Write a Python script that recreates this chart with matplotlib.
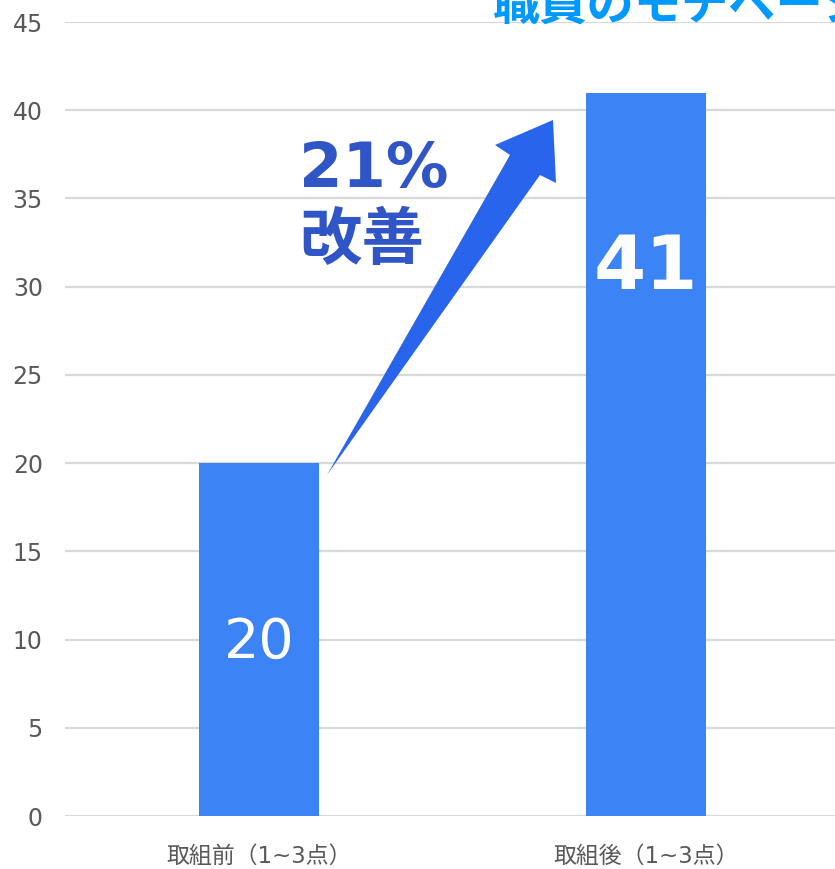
import matplotlib.pyplot as plt
from matplotlib.patches import Polygon

plt.rcParams['font.family'] = ['DejaVu Sans', 'Noto Sans CJK JP']

categories = ["取組前（1~3点）", "取組後（1~3点）"]
values = [20, 41]
yticks = [0, 5, 10, 15, 20, 25, 30, 35, 40, 45]
title = "職員のモチベーション"
gain_label = "21%"
gain_word = "改善"

W, H = 835, 869
fig = plt.figure(figsize=(W / 100, H / 100), dpi=100)
ax = fig.add_axes([65 / W, 53 / H, (W - 65) / W, 794 / H])

x = list(range(len(categories)))
ax.bar(x, values, width=0.31, color="#3C84F6", zorder=2)
ax.set_xlim(-0.5, 1.487)
ax.set_ylim(0, 45)
ax.set_yticks(yticks)
ax.set_xticks(x)
ax.set_xticklabels(categories)
ax.grid(axis="y", color="#d9d9d9", lw=1.6, zorder=0)
ax.set_axisbelow(True)
for s in ax.spines.values():
    s.set_visible(False)
ax.tick_params(axis="y", length=0, pad=16, labelsize=17, labelcolor="#595959")
ax.tick_params(axis="x", length=0, pad=21, labelsize=16.5, labelcolor="#595959")

# value labels inside bars
ax.text(x[0], values[0] * 0.49, str(values[0]), ha="center", va="center",
        color="white", fontsize=40)
ax.text(x[1], values[1] * 0.757, str(values[1]), ha="center", va="center",
        color="white", fontsize=54, fontweight="bold")

# arrow (figure pixel coords)
pts = [(327, 475), (540, 175), (556, 183), (553, 120), (495, 145), (510, 155)]
arrow = Polygon([(px / W, 1 - py / H) for px, py in pts], closed=True,
                transform=fig.transFigure, facecolor="#2864EC",
                edgecolor="none", zorder=5)
fig.patches.append(arrow)

fig.text(299 / W, 1 - 187 / H, gain_label, ha="left", va="baseline",
         fontsize=45, fontweight="bold", color="#2F55C6")
fig.text(299 / W, 1 - 259 / H, gain_word, ha="left", va="baseline",
         fontsize=45, fontweight="bold", color="#2F55C6",
         family=["Noto Sans CJK JP"])

fig.text(493 / W, 1 - 20 / H, title, ha="left", va="baseline",
         fontsize=34, fontweight="bold", color="#0099FF",
         family=["Noto Sans CJK JP"])

fig.savefig("out.png", dpi=100)
